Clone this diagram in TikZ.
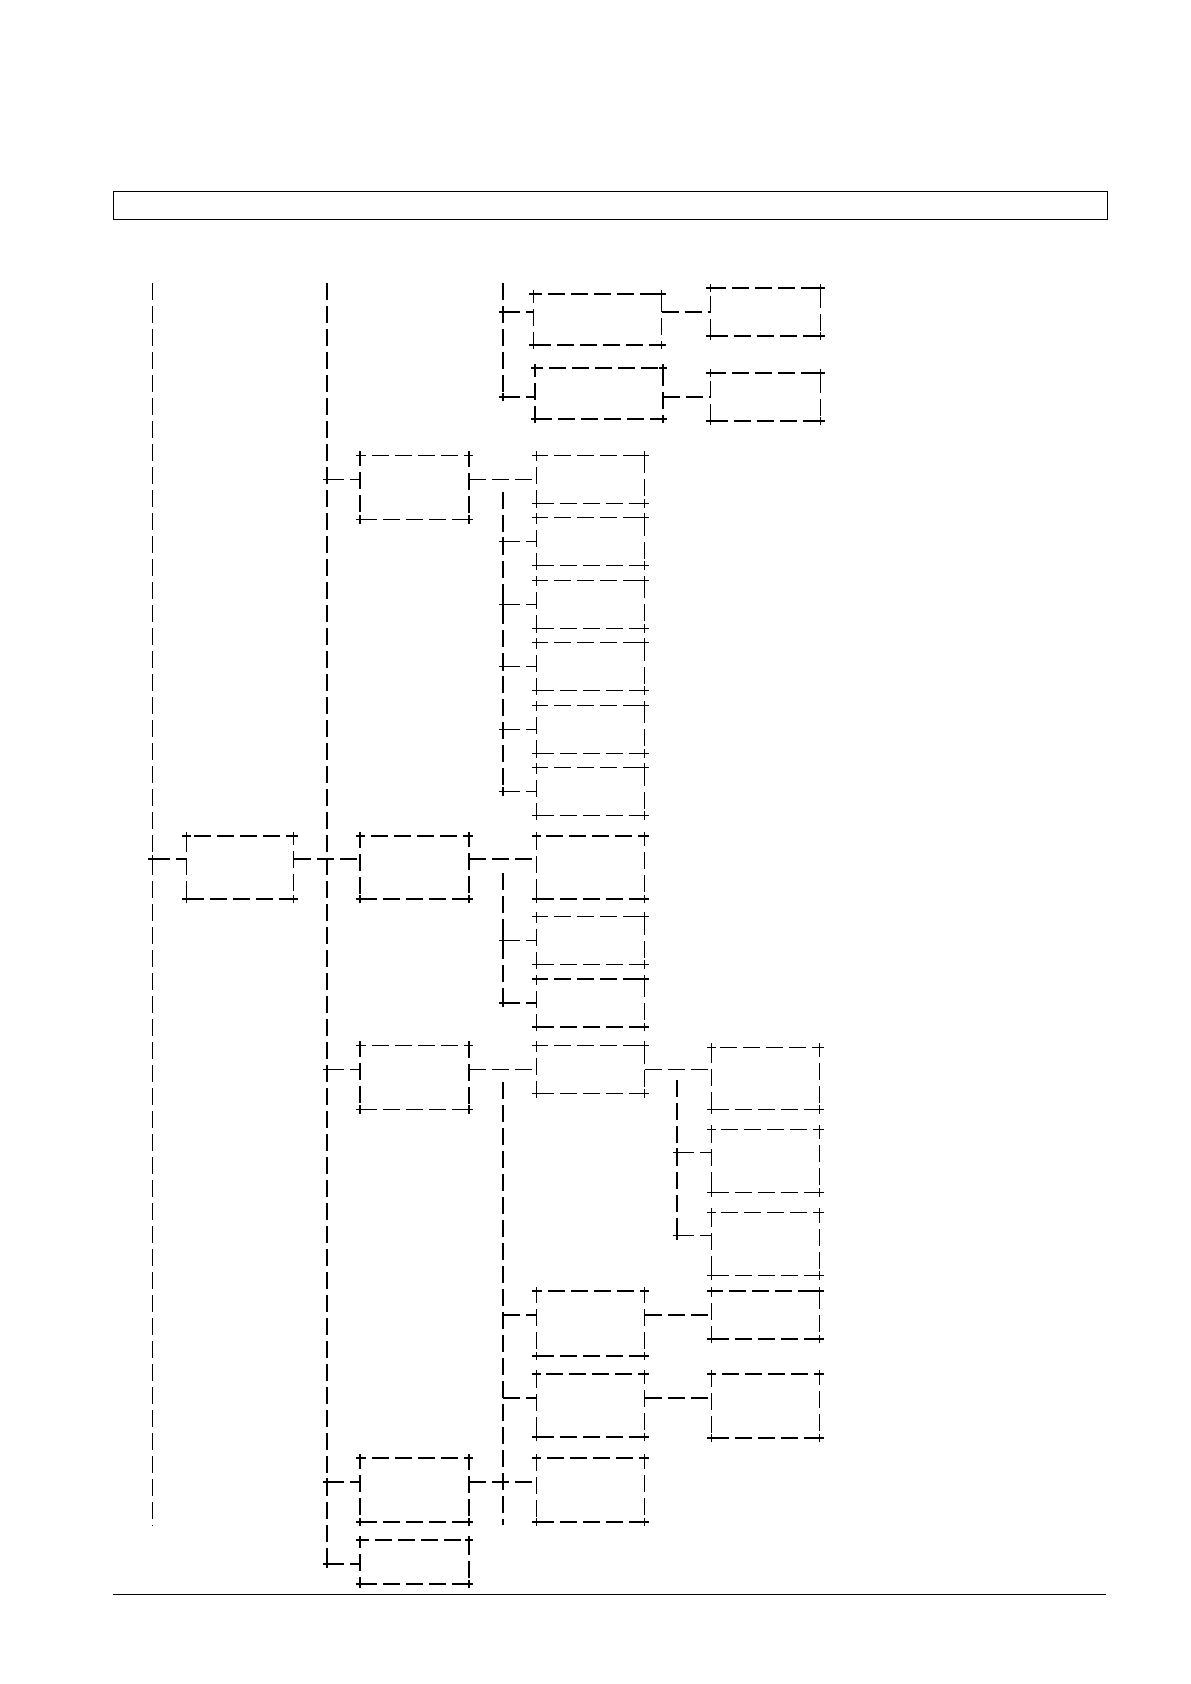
\documentclass[tikz,border=0pt]{standalone}
\usepackage{tikz}

\begin{document}
\begin{tikzpicture}[x=0.5pt,y=-0.5pt]
\tikzstyle{frame}=[line width=0.5pt]
\tikzstyle{link}=[line width=0.55pt,dash pattern=on 8.5pt off 3pt]
\tikzstyle{tick}=[line width=0.55pt]
\tikzstyle{blk}=[draw,link,inner sep=0pt,outer sep=0pt,minimum width=54pt,text height=12pt,text depth=12pt,anchor=base west]
\tikzstyle{tall}=[text depth=20pt]

\useasboundingbox (0,0) rectangle (1190,1684);
\draw [frame] (113,192) rectangle (1107,220);
\draw [frame] (113,1594) -- (1106,1594);

\node [blk,tall,minimum width=53.5pt,text height=11.5pt] (B1) at (186.5,859) {};

\node [blk,tall,minimum width=54.5pt] (C1) at (360,479.3) {};
\node [blk,tall,minimum width=54.5pt,text height=11.5pt] (C2) at (360,859) {};
\node [blk,tall,minimum width=54.5pt] (C3) at (360,1069.5) {};
\node [blk,tall,minimum width=54.5pt] (C4) at (360,1482) {};
\node [blk,minimum width=54.5pt,text depth=10pt] (C5) at (360,1564) {};

\node [blk,minimum width=64pt,text height=9pt,text depth=16.5pt] (D1) at (533.5,312) {};
\node [blk,minimum width=64pt,text height=14.5pt,text depth=11pt] (D2) at (535,397) {};
\node [blk,minimum width=55pt] (E1) at (710.5,312) {};
\node [blk,minimum width=55pt] (E2) at (710.5,397) {};

\foreach \n/\y in {F1/479.3,F2/541.8,F3/604.3,F4/666.8,F5/729.3,F6/791.8}
  \node [blk] (\n) at (536.7,\y) {};

\node [blk,tall,text height=11.5pt] (G1) at (536.7,859) {};
\node [blk] (G2) at (536.7,940.6) {};
\node [blk] (G3) at (536.7,1003) {};

\node [blk] (H1) at (536.7,1069.5) {};
\node [blk,tall,text depth=20.5pt] (H2) at (536.7,1315) {};
\node [blk,tall,text depth=19.5pt] (H3) at (536.7,1398) {};
\node [blk,tall] (I1) at (536.7,1482) {};

\node [blk,tall,text height=11pt] (J1) at (711.5,1069.5) {};
\node [blk,tall,text height=11.5pt] (J2) at (711.5,1152.3) {};
\node [blk,tall,text height=11.5pt] (J3) at (711.5,1235.7) {};
\node [blk] (K1) at (711.5,1315) {};
\node [blk,tall] (K2) at (711.5,1398) {};

\coordinate (a0) at (152.5,283);
\coordinate (a1) at (152.5,1526);
\coordinate (b0) at (327,283);
\coordinate (c0) at (503,283);
\coordinate (c1) at (503,492);
\coordinate (c2) at (503,873);
\coordinate (c3) at (503,1082);
\coordinate (c4) at (503,1525);
\coordinate (d0) at (677,1080);

\draw [link] (a0) -- (a1);
\draw [link] (b0) -- (b0 |- C5.base west);
\draw [link] (c0) -- (c0 |- D2.base west);
\draw [link] (c1) -- (c1 |- F6.base west);
\draw [link] (c2) -- (c2 |- G3.base west);
\draw [link] (c3) -- (c4);
\draw [link] (d0) -- (d0 |- J3.base west);

\foreach \bus/\kid in {a0/B1,b0/C1,b0/C3,b0/C4,b0/C5,c0/D1,c0/D2,c1/F2,c1/F3,c1/F4,c1/F5,c1/F6,c2/G2,c2/G3,d0/J2,d0/J3}
{
  \draw [link] (\bus |- \kid.base west) -- (\kid.base west);
  \draw [tick] (\bus |- \kid.base west) +(-2.2pt,0) -- +(2.2pt,0) +(0,-2.2pt) -- +(0,2.2pt);
}
\foreach \kid in {H2,H3}
  \draw [link] (c3 |- \kid.base west) -- (\kid.base west);

\foreach \up/\kid in {B1/C2,C1/F1,C2/G1,C3/H1,C4/I1,D1/E1,D2/E2,H1/J1,H2/K1,H3/K2}
  \draw [link] (\up.base east) -- (\kid.base west);

\foreach \n in {B1,C1,C2,C3,C4,C5,D1,D2,E1,E2,F1,F2,F3,F4,F5,F6,G1,G2,G3,H1,H2,H3,I1,J1,J2,J3,K1,K2}
  \foreach \c in {north west,north east,south west,south east}
    \draw [tick] (\n.\c) +(-2.2pt,0) -- +(2.2pt,0) +(0,-2.2pt) -- +(0,2.2pt);
\end{tikzpicture}
\end{document}
